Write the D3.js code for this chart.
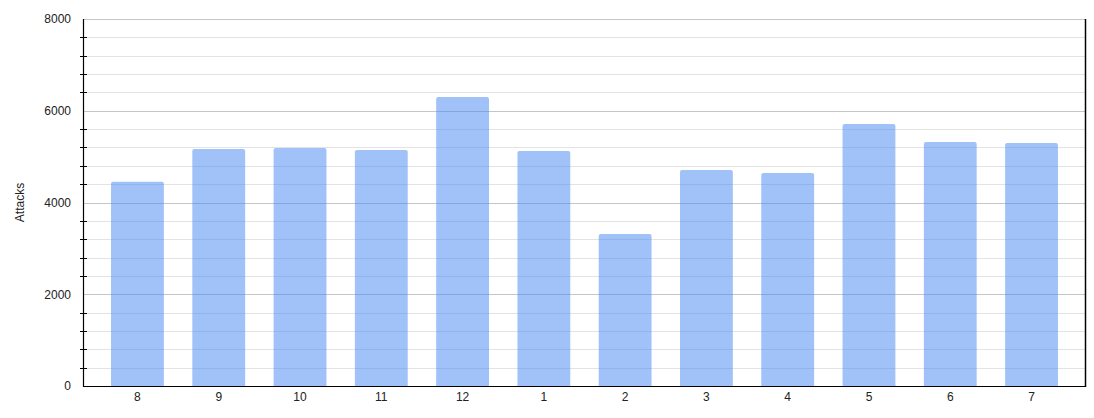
<!DOCTYPE html>
<html>
<head>
    <meta charset="utf-8" />
    <script src="https://d3js.org/d3.v7.min.js"></script>
    <style>
        body { margin: 0; background: #fff; font-family: "Liberation Sans", Arial, sans-serif; }
        .tick text { font-size: 12px; fill: #222; }
    </style>
</head>
<body>
    <svg id="chart" width="1094" height="418"></svg>

    <script>
        // data
        var months = ["8", "9", "10", "11", "12", "1", "2", "3", "4", "5", "6", "7"];
        var attacks = [4450, 5166, 5188, 5144, 6300, 5122, 3313, 4708, 4643, 5711, 5319, 5297];
        var yTicks = [0, 2000, 4000, 6000, 8000];

        var margin = { top: 19, right: 8, bottom: 32, left: 83 };
        var width = 1094 - margin.left - margin.right;
        var height = 418 - margin.top - margin.bottom;

        var svg = d3.select("#chart")
            .append("g")
            .attr("transform", "translate(" + margin.left + "," + margin.top + ")");

        var x = d3.scaleBand()
            .domain(months)
            .range([0, width])
            .paddingInner(0.35)
            .paddingOuter(0.345);

        var y = d3.scaleLinear()
            .domain([0, 8000])
            .range([height, 0]);

        var minor = d3.range(0, 8001, 400);

        // gridlines
        svg.selectAll(".grid")
            .data(minor)
            .enter().append("line")
            .attr("x1", 0)
            .attr("x2", width)
            .attr("y1", d => Math.round(y(d)) + 0.5)
            .attr("y2", d => Math.round(y(d)) + 0.5)
            .attr("stroke", d => d % 2000 == 0 ? "#c6c6c6" : "#e3e3e3")
            .attr("stroke-width", 1);

        // bars
        svg.selectAll(".bar")
            .data(attacks)
            .enter().append("rect")
            .attr("x", (d, i) => x(months[i]))
            .attr("y", d => y(d))
            .attr("width", x.bandwidth())
            .attr("height", d => height - y(d) + 3)
            .attr("rx", 2)
            .attr("fill", "#4285f4")
            .attr("fill-opacity", 0.5);

        // cover the rounded bottom corners
        svg.append("rect")
            .attr("x", 0).attr("y", height + 0.5)
            .attr("width", width).attr("height", 6)
            .attr("fill", "#fff");

        // left axis with minor ticks
        svg.selectAll(".mtick")
            .data(minor.filter(d => d % 2000 != 0))
            .enter().append("line")
            .attr("x1", -3).attr("x2", 4)
            .attr("y1", d => Math.round(y(d)) + 0.5)
            .attr("y2", d => Math.round(y(d)) + 0.5)
            .attr("stroke", "#000");

        var yAxis = svg.append("g")
            .call(d3.axisLeft(y).tickValues(yTicks).tickSize(0).tickPadding(12).tickFormat(d3.format("d")));
        yAxis.select(".domain").remove();

        svg.append("line")
            .attr("x1", 0.5).attr("x2", 0.5)
            .attr("y1", 0).attr("y2", height + 1)
            .attr("stroke", "#000").attr("stroke-width", 1.2);

        svg.append("line")
            .attr("x1", width - 0.5).attr("x2", width - 0.5)
            .attr("y1", 0).attr("y2", height + 1)
            .attr("stroke", "#000").attr("stroke-width", 1.5);

        // bottom axis
        var xAxis = svg.append("g")
            .attr("transform", "translate(0," + height + ")")
            .call(d3.axisBottom(x).tickSize(0).tickPadding(6));
        xAxis.select(".domain").remove();

        svg.append("line")
            .attr("x1", 0).attr("x2", width)
            .attr("y1", height + 0.5).attr("y2", height + 0.5)
            .attr("stroke", "#000").attr("stroke-width", 1.2);

        // y axis label
        svg.append("text")
            .attr("x", -height / 2)
            .attr("y", -margin.left + 24)
            .attr("transform", "rotate(-90)")
            .style("text-anchor", "middle")
            .style("font-size", "12px")
            .attr("fill", "#222")
            .text("Attacks");
    </script>
</body>
</html>
